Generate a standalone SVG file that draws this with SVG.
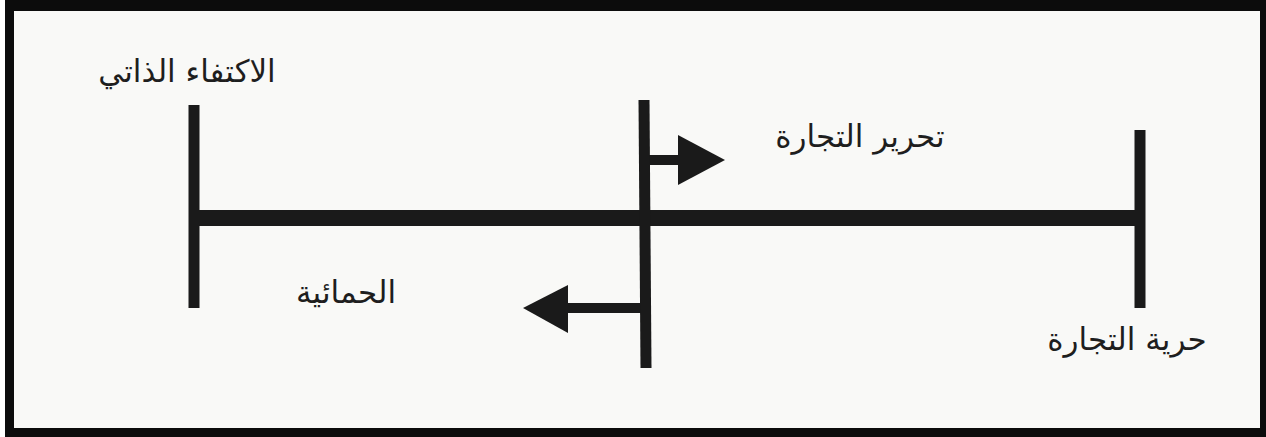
<svg xmlns="http://www.w3.org/2000/svg" width="1266" height="437" viewBox="0 0 1266 437">
<style>
.bar{stroke:#1a1a1a;fill:none;stroke-linecap:butt}
.head{fill:#1a1a1a}
.lbl{font-family:"DejaVu Sans",sans-serif;font-size:31px;fill:#1e1e1e;text-anchor:middle}
</style>
<rect x="0" y="0" width="1266" height="437" fill="#ffffff"/>
<rect x="5" y="0" width="1261" height="437" fill="#0c0c0c"/>
<rect x="14" y="11" width="1246" height="417" fill="#f9f9f7"/>
<g id="connectors">
<line class="bar" x1="193" y1="218" x2="1140" y2="218" stroke-width="16"/>
<line class="bar" x1="649" y1="160" x2="682" y2="160" stroke-width="10"/>
<polygon class="head" points="678,135 725,160 678,185"/>
<line class="bar" x1="641" y1="308" x2="565" y2="308" stroke-width="10"/>
<polygon class="head" points="568,285 523,308 568,333"/>
</g>
<g id="self-sufficiency">
<line class="bar" x1="194" y1="105" x2="194" y2="308" stroke-width="11"/>
<text class="lbl" x="187" y="82">الاكتفاء الذاتي</text>
</g>
<g id="midpoint">
<line class="bar" x1="644" y1="100" x2="646" y2="368" stroke-width="11"/>
</g>
<g id="liberalization">
<text class="lbl" x="860" y="147">تحرير التجارة</text>
</g>
<g id="protectionism">
<text class="lbl" x="346" y="303">الحمائية</text>
</g>
<g id="free-trade">
<line class="bar" x1="1140" y1="130" x2="1140" y2="308" stroke-width="11"/>
<text class="lbl" x="1127" y="350">حرية التجارة</text>
</g>
</svg>
